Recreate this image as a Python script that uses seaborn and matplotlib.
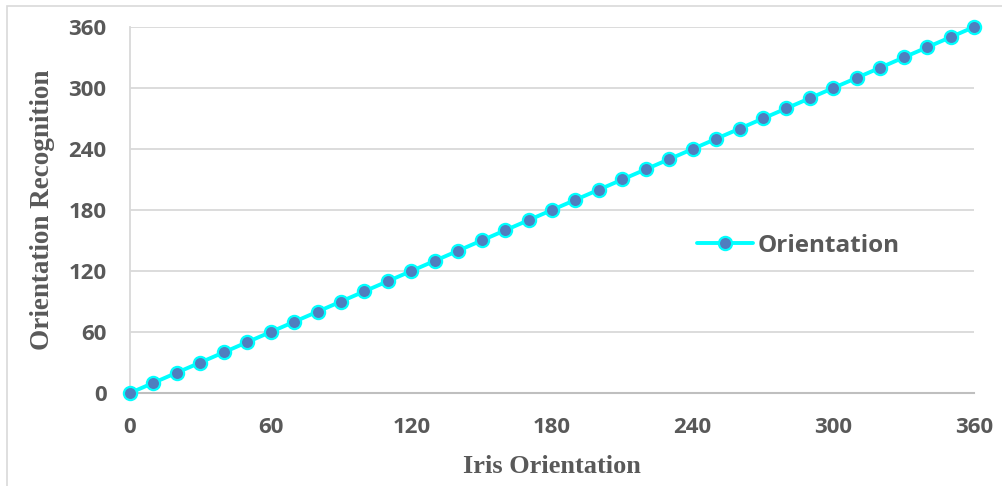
import numpy as np
import pandas as pd
import matplotlib
matplotlib.use("Agg")
import matplotlib.pyplot as plt
import seaborn as sns
from matplotlib.patches import Rectangle

# Data
iris_orientation = [0, 10, 20, 30, 40, 50, 60, 70, 80, 90, 100, 110, 120, 130, 140, 150, 160, 170, 180,
                    190, 200, 210, 220, 230, 240, 250, 260, 270, 280, 290, 300, 310, 320, 330, 340, 350, 360]
orientation_recognition = [0, 10, 20, 30, 40, 50, 60, 70, 80, 90, 100, 110, 120, 130, 140, 150, 160, 170, 180,
                           190, 200, 210, 220, 230, 240, 250, 260, 270, 280, 290, 300, 310, 320, 330, 340, 350, 360]
tick_values = [0, 60, 120, 180, 240, 300, 360]
series_name = "Orientation"

df = pd.DataFrame({"Iris Orientation": iris_orientation,
                   "Orientation Recognition": orientation_recognition,
                   "series": series_name})

sns.set_theme(style="white")
plt.rcParams['font.family'] = ['Open Sans', 'DejaVu Sans']

fig = plt.figure(figsize=(10.03, 4.86), dpi=100)
ax = fig.add_axes([130/1003, 1-393/486, (974-130)/1003, (393-27)/486])

grid_c = "#D9D9D9"
txt_c = "#595959"

sns.lineplot(data=df, x="Iris Orientation", y="Orientation Recognition", hue="series",
             palette=["#00FFFF"], marker="o", markersize=9.5, markerfacecolor="#4F7EBF",
             markeredgecolor="#00FFFF", markeredgewidth=1.6, linewidth=2.8, ax=ax, zorder=3,
             clip_on=False)

ax.set_xlim(0, 360)
ax.set_ylim(0, 360)
ax.set_xticks(tick_values)
ax.set_yticks(tick_values)
ax.set_xticklabels([str(t) for t in tick_values])
ax.set_yticklabels([str(t) for t in tick_values])
ax.tick_params(axis="both", length=0, labelsize=16, labelcolor=txt_c)
ax.tick_params(axis="y", pad=17)
ax.tick_params(axis="x", pad=17)
for lab in ax.get_xticklabels() + ax.get_yticklabels():
    lab.set_fontweight("bold")

ax.grid(axis="y", color=grid_c, linewidth=1.3)
ax.set_axisbelow(True)
for s in ["top", "right"]:
    ax.spines[s].set_visible(False)
ax.spines["left"].set_color(grid_c)
ax.spines["left"].set_linewidth(1.3)
ax.spines["bottom"].set_color("#BFBFBF")
ax.spines["bottom"].set_linewidth(1.5)

ax.set_xlabel("Iris Orientation", family=["Liberation Serif", "DejaVu Serif"], fontweight="bold",
              fontsize=19, color=txt_c)
ax.set_ylabel("Orientation Recognition", family=["Liberation Serif", "DejaVu Serif"], fontweight="bold",
              fontsize=19.5, color=txt_c)
ax.yaxis.set_label_coords((55 - 130) / (974 - 130), 0.5)
ax.xaxis.set_label_coords(0.5, -(455 - 393) / (393 - 27))

leg = ax.legend(loc="center left", bbox_to_anchor=((675 - 130) / (974 - 130), (393 - 246) / 366),
                frameon=False, fontsize=17.5, handlelength=2.3, handletextpad=0.2)
for t in leg.get_texts():
    t.set_color(txt_c)
    t.set_fontweight("bold")

fig.patches.append(Rectangle((7/1003, -0.1), 1.2, 1 - 6/486 + 0.1, transform=fig.transFigure,
                             fill=False, edgecolor="#D9D9D9", linewidth=1.2))

fig.savefig("out.png", dpi=100)
